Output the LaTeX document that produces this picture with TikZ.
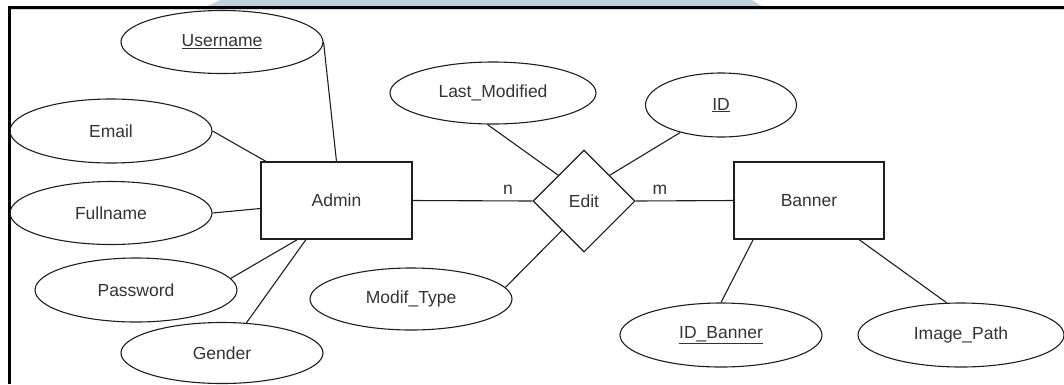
\documentclass[tikz,border=0pt]{standalone}
\usepackage{fontspec}
\setmainfont{Liberation Sans}
\usetikzlibrary{shapes.geometric}
\definecolor{inkline}{HTML}{1E1E1E}
\definecolor{inktext}{HTML}{333333}
\definecolor{bandblue}{HTML}{C2D1DE}
\definecolor{shadowgray}{HTML}{D6D6D6}
\tikzset{
  attr/.style={ellipse, draw=inkline, line width=1.1pt, inner sep=0pt,
    minimum width=202pt, minimum height=63pt, text=inktext,
    font=\fontsize{17.5}{20}\selectfont},
  entity/.style={rectangle, draw=inkline, line width=1.1pt, inner sep=0pt,
    minimum width=151pt, minimum height=77pt, text=inktext,
    font=\fontsize{17.5}{20}\selectfont},
  relation/.style={diamond, draw=inkline, line width=1.1pt, inner sep=0pt,
    minimum width=102pt, minimum height=102pt, text=inktext,
    font=\fontsize{17.5}{20}\selectfont},
  link/.style={draw=inkline, line width=1.1pt},
  card/.style={inner sep=0pt, text=inktext, font=\fontsize{17.5}{20}\selectfont},
}
\begin{document}
\begin{tikzpicture}[x=1pt,y=-1pt]
\useasboundingbox (0,0) rectangle (1064,384);

% page decoration and frame
\fill[bandblue] (220,0) -- (752,0) -- (763,7) -- (206,7) -- cycle;
\fill[shadowgray] (11,9) rectangle (1064,10);
\draw[black, line width=2.6pt] (9.5,384) -- (9.5,7.5) -- (1064,7.5);

% entities and relationship
\node[entity] (admin) at (336.5,200.5) {Admin};
\node[entity, minimum width=150pt] (banner) at (809,200.5) {Banner};
\node[relation] (edit) at (584,201) {Edit};

% attributes of Admin
\node[attr] (user) at (222,42) {\underline{Username}};
\node[attr, minimum height=64pt] (email) at (111,131) {Email};
\node[attr] (full) at (111,213) {Fullname};
\node[attr, minimum height=64pt] (pass) at (136,290) {Password};
\node[attr, minimum height=61pt] (gender) at (222,353) {Gender};

% attributes of Edit
\node[attr, minimum width=206pt, minimum height=62pt] (lastmod) at (493,93) {Last\_Modified};
\node[attr, minimum width=151pt, minimum height=64pt] (idn) at (721,105) {\underline{ID}};
\node[attr, minimum height=62pt] (modif) at (411,299) {Modif\_Type};

% attributes of Banner
\node[attr, minimum height=64pt] (idban) at (721,335) {\underline{ID\_Banner}};
\node[attr, minimum width=206pt, minimum height=64pt] (imgp) at (961,335) {Image\_Path};

% attribute links
\draw[link] (user.east) -- (admin.north);
\draw[link] (email.east) -- (admin.151);
\draw[link] (full.east) -- (admin.186);
\draw[link] (pass.7) -- (admin.225);
\draw[link] (gender.51) -- (admin.232);
\draw[link] (lastmod.260) -- (edit.north west);
\draw[link] (idn.214) -- (edit.north east);
\draw[link] (modif.7) -- (edit.233);
\draw[link] (idban.north) -- (banner.215);
\draw[link] (imgp.114) -- (banner.322);

% relationship links with cardinalities
\draw[link] (admin.east) -- (edit.west);
\draw[link] (edit.east) -- (banner.west);
\node[card] (cn) at (508,190) {n};
\node[card] (cm) at (660,190) {m};
\end{tikzpicture}
\end{document}
